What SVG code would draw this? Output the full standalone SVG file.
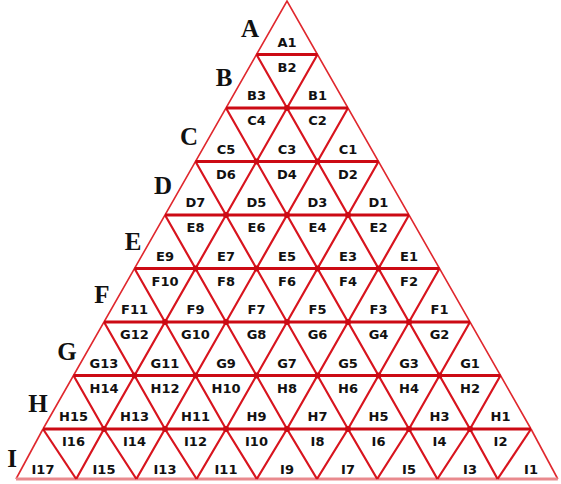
<svg xmlns="http://www.w3.org/2000/svg" width="561" height="484" viewBox="0 0 561 484">
<style>
.h{stroke:#cc0a14;stroke-width:3;fill:none}
.d{stroke:#d8141e;stroke-width:2.2;fill:none}
.o{stroke:#e0282e;stroke-width:1.6;fill:none}
.b{stroke:#e98a8e;stroke-width:3;fill:none}
.dot{fill:#cc0a14}
.l{font-family:"DejaVu Sans",sans-serif;font-weight:bold;font-size:13px;fill:#111;text-anchor:middle}
.r{font-family:"Liberation Serif",serif;font-weight:bold;font-size:25px;fill:#111;text-anchor:middle}
</style>
<rect width="561" height="484" fill="#fff"/>
<g id="connectors">
<polyline class="o" points="43,429 287,1 531,429"/>
<polyline class="o" points="16,479 43,429"/>
<polyline class="o" points="531,429 557.8,479"/>
<line class="b" x1="16" y1="479" x2="557.8" y2="479"/>
<polyline class="d" points="76.2,479 104,429 317.5,54.5"/>
<polyline class="d" points="136.4,479 165,429 348,108"/>
<polyline class="d" points="196.6,479 226,429 378.5,161.5"/>
<polyline class="d" points="256.8,479 287,429 409,215"/>
<polyline class="d" points="317,479 348,429 439.5,268.5"/>
<polyline class="d" points="377.2,479 409,429 470,322"/>
<polyline class="d" points="437.4,479 470,429 500.5,375.5"/>
<polyline class="d" points="497.6,479 531,429"/>
<polyline class="d" points="76.2,479 43,429"/>
<polyline class="d" points="136.4,479 104,429 73.5,375.5"/>
<polyline class="d" points="196.6,479 165,429 104,322"/>
<polyline class="d" points="256.8,479 226,429 134.5,268.5"/>
<polyline class="d" points="317,479 287,429 165,215"/>
<polyline class="d" points="377.2,479 348,429 195.5,161.5"/>
<polyline class="d" points="437.4,479 409,429 226,108"/>
<polyline class="d" points="497.6,479 470,429 256.5,54.5"/>
<line class="h" x1="256.5" y1="54.5" x2="317.5" y2="54.5"/>
<line class="h" x1="226" y1="108" x2="348" y2="108"/>
<line class="h" x1="195.5" y1="161.5" x2="378.5" y2="161.5"/>
<line class="h" x1="165" y1="215" x2="409" y2="215"/>
<line class="h" x1="134.5" y1="268.5" x2="439.5" y2="268.5"/>
<line class="h" x1="104" y1="322" x2="470" y2="322"/>
<line class="h" x1="73.5" y1="375.5" x2="500.5" y2="375.5"/>
<line class="h" x1="43" y1="429" x2="531" y2="429"/>
<g class="dot">
<circle cx="287" cy="108" r="3"/>
<circle cx="256.5" cy="161.5" r="3"/><circle cx="317.5" cy="161.5" r="3"/>
<circle cx="226" cy="215" r="3"/><circle cx="287" cy="215" r="3"/><circle cx="348" cy="215" r="3"/>
<circle cx="195.5" cy="268.5" r="3"/><circle cx="256.5" cy="268.5" r="3"/><circle cx="317.5" cy="268.5" r="3"/><circle cx="378.5" cy="268.5" r="3"/>
<circle cx="165" cy="322" r="3"/><circle cx="226" cy="322" r="3"/><circle cx="287" cy="322" r="3"/><circle cx="348" cy="322" r="3"/><circle cx="409" cy="322" r="3"/>
<circle cx="134.5" cy="375.5" r="3"/><circle cx="195.5" cy="375.5" r="3"/><circle cx="256.5" cy="375.5" r="3"/><circle cx="317.5" cy="375.5" r="3"/><circle cx="378.5" cy="375.5" r="3"/><circle cx="439.5" cy="375.5" r="3"/>
<circle cx="104" cy="429" r="3"/><circle cx="165" cy="429" r="3"/><circle cx="226" cy="429" r="3"/><circle cx="287" cy="429" r="3"/><circle cx="348" cy="429" r="3"/><circle cx="409" cy="429" r="3"/><circle cx="470" cy="429" r="3"/>
</g>
</g>
<g id="rows">
<text class="r" x="250" y="37">A</text>
<text class="r" x="224" y="86">B</text>
<text class="r" x="189" y="145">C</text>
<text class="r" x="163" y="194">D</text>
<text class="r" x="133" y="250">E</text>
<text class="r" x="102" y="303">F</text>
<text class="r" x="67" y="360">G</text>
<text class="r" x="38" y="412">H</text>
<text class="r" x="12" y="467">I</text>
</g>
<g id="row-A"><text class="l" x="287" y="46.5">A1</text></g>
<g id="row-B">
<text class="l" x="256.5" y="100">B3</text><text class="l" x="287" y="71.5">B2</text><text class="l" x="317.5" y="100">B1</text>
</g>
<g id="row-C">
<text class="l" x="226" y="153.5">C5</text><text class="l" x="256.5" y="125">C4</text><text class="l" x="287" y="153.5">C3</text><text class="l" x="317.5" y="125">C2</text><text class="l" x="348" y="153.5">C1</text>
</g>
<g id="row-D">
<text class="l" x="195.5" y="207">D7</text><text class="l" x="226" y="178.5">D6</text><text class="l" x="256.5" y="207">D5</text><text class="l" x="287" y="178.5">D4</text><text class="l" x="317.5" y="207">D3</text><text class="l" x="348" y="178.5">D2</text><text class="l" x="378.5" y="207">D1</text>
</g>
<g id="row-E">
<text class="l" x="165" y="260.5">E9</text><text class="l" x="195.5" y="232">E8</text><text class="l" x="226" y="260.5">E7</text><text class="l" x="256.5" y="232">E6</text><text class="l" x="287" y="260.5">E5</text><text class="l" x="317.5" y="232">E4</text><text class="l" x="348" y="260.5">E3</text><text class="l" x="378.5" y="232">E2</text><text class="l" x="409" y="260.5">E1</text>
</g>
<g id="row-F">
<text class="l" x="134.5" y="314">F11</text><text class="l" x="165" y="285.5">F10</text><text class="l" x="195.5" y="314">F9</text><text class="l" x="226" y="285.5">F8</text><text class="l" x="256.5" y="314">F7</text><text class="l" x="287" y="285.5">F6</text><text class="l" x="317.5" y="314">F5</text><text class="l" x="348" y="285.5">F4</text><text class="l" x="378.5" y="314">F3</text><text class="l" x="409" y="285.5">F2</text><text class="l" x="439.5" y="314">F1</text>
</g>
<g id="row-G">
<text class="l" x="104" y="367.5">G13</text><text class="l" x="134.5" y="339">G12</text><text class="l" x="165" y="367.5">G11</text><text class="l" x="195.5" y="339">G10</text><text class="l" x="226" y="367.5">G9</text><text class="l" x="256.5" y="339">G8</text><text class="l" x="287" y="367.5">G7</text><text class="l" x="317.5" y="339">G6</text><text class="l" x="348" y="367.5">G5</text><text class="l" x="378.5" y="339">G4</text><text class="l" x="409" y="367.5">G3</text><text class="l" x="439.5" y="339">G2</text><text class="l" x="470" y="367.5">G1</text>
</g>
<g id="row-H">
<text class="l" x="73.5" y="421">H15</text><text class="l" x="104" y="392.5">H14</text><text class="l" x="134.5" y="421">H13</text><text class="l" x="165" y="392.5">H12</text><text class="l" x="195.5" y="421">H11</text><text class="l" x="226" y="392.5">H10</text><text class="l" x="256.5" y="421">H9</text><text class="l" x="287" y="392.5">H8</text><text class="l" x="317.5" y="421">H7</text><text class="l" x="348" y="392.5">H6</text><text class="l" x="378.5" y="421">H5</text><text class="l" x="409" y="392.5">H4</text><text class="l" x="439.5" y="421">H3</text><text class="l" x="470" y="392.5">H2</text><text class="l" x="500.5" y="421">H1</text>
</g>
<g id="row-I">
<text class="l" x="43" y="474">I17</text><text class="l" x="73.5" y="446">I16</text><text class="l" x="104" y="474">I15</text><text class="l" x="134.5" y="446">I14</text><text class="l" x="165" y="474">I13</text><text class="l" x="195.5" y="446">I12</text><text class="l" x="226" y="474">I11</text><text class="l" x="256.5" y="446">I10</text><text class="l" x="287" y="474">I9</text><text class="l" x="317.5" y="446">I8</text><text class="l" x="348" y="474">I7</text><text class="l" x="378.5" y="446">I6</text><text class="l" x="409" y="474">I5</text><text class="l" x="439.5" y="446">I4</text><text class="l" x="470" y="474">I3</text><text class="l" x="500.5" y="446">I2</text><text class="l" x="531" y="474">I1</text>
</g>
</svg>
